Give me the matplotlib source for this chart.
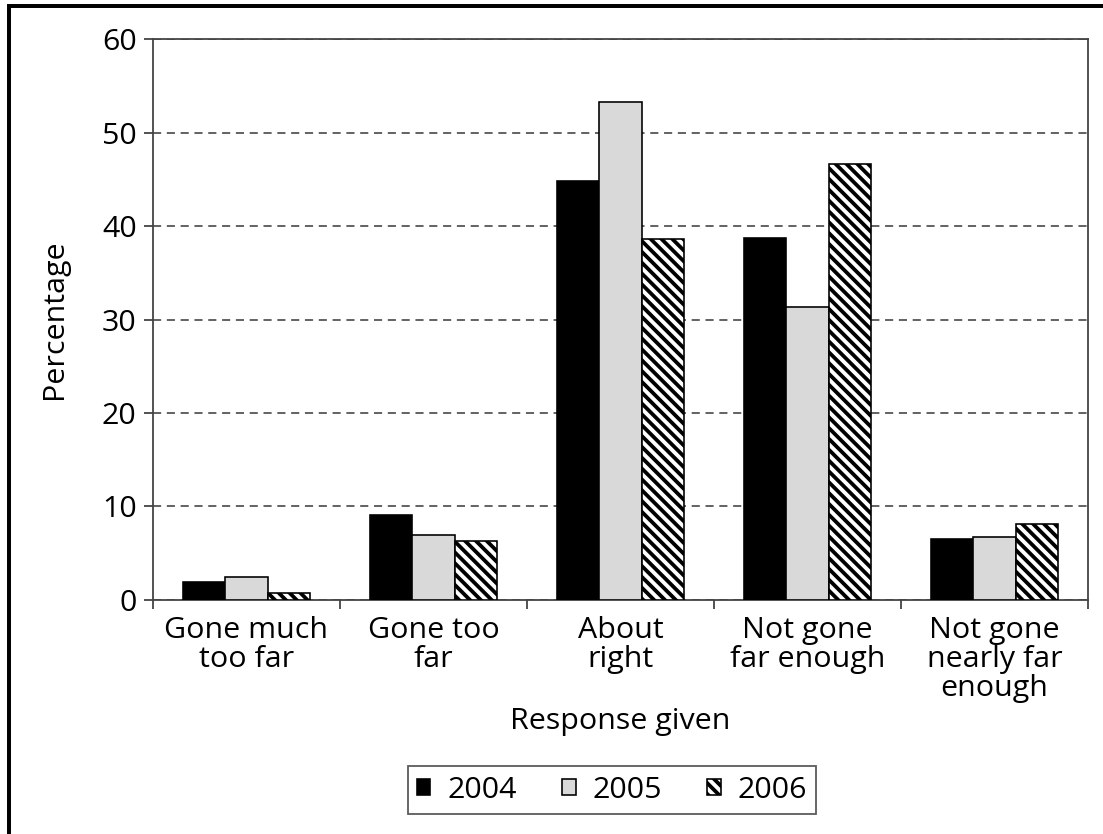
import numpy as np
import matplotlib
matplotlib.use("Agg")
import matplotlib.pyplot as plt
from matplotlib.patches import Rectangle

plt.rcParams['font.family'] = ['Open Sans', 'DejaVu Sans']
plt.rcParams['hatch.linewidth'] = 2.1

# Datos
categorias = ["Gone much\ntoo far", "Gone too\nfar", "About\nright",
              "Not gone\nfar enough", "Not gone\nnearly far\nenough"]
anios = ["2004", "2005", "2006"]
v2004 = [1.9, 9.1, 44.8, 38.7, 6.5]
v2005 = [2.5, 6.9, 53.3, 31.3, 6.7]
v2006 = [0.8, 6.3, 38.6, 46.6, 8.1]

DPI = 130
FS = 16.8
fig = plt.figure(figsize=(1103 / DPI, 834 / DPI), dpi=DPI)
ax = fig.add_axes([0.1387, 0.2806, 0.8477, 0.6726])

x = np.arange(len(categorias))
w = 0.225
estilos = [dict(color="black"),
           dict(color="#d9d9d9"),
           dict(color="white", hatch="\\\\\\\\")]
series = [v2004, v2005, v2006]
for i, (vals, est, anio) in enumerate(zip(series, estilos, anios)):
    ax.bar(x + (i - 1) * w, vals, w, edgecolor="black", linewidth=0.9,
           label=anio, zorder=3, **est)

ax.set_xlim(-0.5, 4.5)
ax.set_ylim(0, 60)
ax.set_yticks(range(0, 61, 10))
ax.yaxis.grid(True, linestyle=(0, (5, 3.5)), color="#444444", linewidth=0.9)
ax.set_axisbelow(True)

ax.set_xticks(x)
ax.set_xticklabels(categorias, fontsize=FS, linespacing=1.0)
ax.set_xticks(np.arange(-0.5, 5, 1), minor=True)
ax.tick_params(axis="x", which="major", length=0, pad=9)
ax.tick_params(axis="x", which="minor", length=5, width=1, color="#444444")
ax.tick_params(axis="y", length=5, width=1, color="#444444", labelsize=FS, pad=4)

for s in ax.spines.values():
    s.set_color("#444444")
    s.set_linewidth(1.0)

ax.set_ylabel("Percentage", fontsize=FS, labelpad=18)
ax.set_xlabel("Response given", fontsize=FS, labelpad=2)

leg = fig.legend(loc="center", bbox_to_anchor=(612 / 1103, 1 - 790 / 834),
                 ncol=3, fontsize=FS, frameon=True, fancybox=False,
                 edgecolor="#333333", handlelength=0.45, handleheight=0.45,
                 handletextpad=0.55, columnspacing=1.5, borderpad=0.3)
leg.get_frame().set_linewidth(1.0)

# marco exterior
fig.patches.append(Rectangle((9 / 1103, -0.1), 1.2, 1.1 - 6 / 834,
                             transform=fig.transFigure, fill=False,
                             edgecolor="black", linewidth=2.2))

fig.savefig("out.png", dpi=DPI, facecolor="white")
